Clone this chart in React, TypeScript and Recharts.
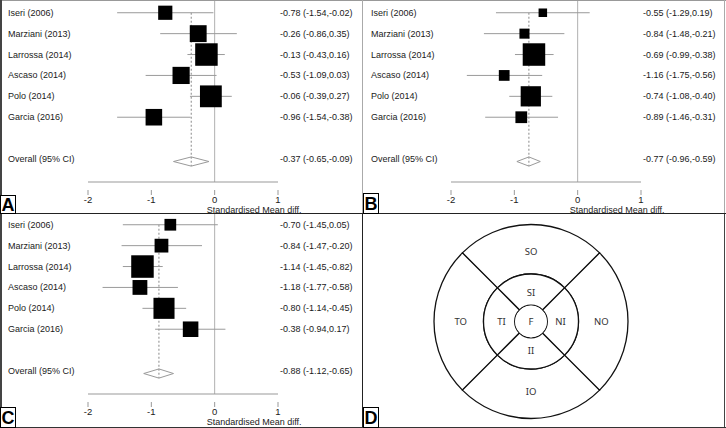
import React from 'react';
import { ScatterChart, Scatter, XAxis, YAxis, ReferenceLine, ErrorBar, PieChart, Pie } from 'recharts';

const studyNames = ['Iseri (2006)', 'Marziani (2013)', 'Larrossa (2014)', 'Ascaso (2014)', 'Polo (2014)', 'Garcia (2016)'];
const overallLabel = 'Overall (95% CI)';
const axisTitle = 'Standardised Mean diff.';
const xTicks = [-2, -1, 0, 1];

// Panel A
const aEst = [-0.78, -0.26, -0.13, -0.53, -0.06, -0.96];
const aLow = [-1.54, -0.86, -0.43, -1.09, -0.39, -1.54];
const aHigh = [-0.02, 0.35, 0.16, 0.03, 0.27, -0.38];
const aWeight = [9.9, 14.0, 24.9, 14.5, 23.4, 13.5];
const aOverall = [-0.37, -0.65, -0.09];

// Panel B
const bEst = [-0.55, -0.84, -0.69, -1.16, -0.74, -0.89];
const bLow = [-1.29, -1.48, -0.99, -1.75, -1.08, -1.46];
const bHigh = [0.19, -0.21, -0.38, -0.56, -0.40, -0.31];
const bWeight = [5.4, 7.5, 37.7, 8.6, 30.5, 10.3];
const bOverall = [-0.77, -0.96, -0.59];

// Panel C
const cEst = [-0.70, -0.84, -1.14, -1.18, -0.80, -0.38];
const cLow = [-1.45, -1.47, -1.45, -1.77, -1.14, -0.94];
const cHigh = [0.05, -0.20, -0.82, -0.58, -0.45, 0.17];
const cWeight = [7.9, 10.9, 29.1, 12.6, 25.5, 13.9];
const cOverall = [-0.88, -1.12, -0.65];

// Panel D (macular grid)
const outerSectors = ['SO', 'TO', 'IO', 'NO'];
const innerSectors = ['SI', 'TI', 'II', 'NI'];
const centerSector = ['F'];

const FONT = '"Liberation Sans", Arial, Helvetica, sans-serif';
const OVERALL_ROW = 7;
const DIAMOND_ROW = 7.12;
const DIAMOND_HALF = 0.22;
const MAX_SIDE = 22.5;
const CI_COLOR = '#9a9a9a';

const fmt = (v: number) => v.toFixed(2);

type PanelProps = {
  est: number[];
  low: number[];
  high: number[];
  weight: number[];
  overall: number[];
};

function ForestPanel({ est, low, high, weight, overall }: PanelProps) {
  const maxW = Math.max(...weight);
  const studies = studyNames.map((name, i) => ({
    x: est[i],
    y: i,
    w: weight[i],
    err: [est[i] - low[i], high[i] - est[i]],
  }));
  const [oEst, oLow, oHigh] = overall;
  const diamond = [
    { x: oLow, y: DIAMOND_ROW },
    { x: oEst, y: DIAMOND_ROW - DIAMOND_HALF },
    { x: oHigh, y: DIAMOND_ROW },
    { x: oEst, y: DIAMOND_ROW + DIAMOND_HALF },
    { x: oLow, y: DIAMOND_ROW },
  ];
  const labels: Record<number, [string, string]> = {};
  studyNames.forEach((n, i) => {
    labels[i] = [n, `${fmt(est[i])} (${fmt(low[i])},${fmt(high[i])})`];
  });
  labels[OVERALL_ROW] = [overallLabel, `${fmt(oEst)} (${fmt(oLow)},${fmt(oHigh)})`];
  const yTicks = [0, 1, 2, 3, 4, 5, OVERALL_ROW];

  const renderYTick = (props: any) => {
    const { y, payload } = props;
    const l = labels[payload.value];
    if (!l) return <g />;
    return (
      <g>
        <text x={8} y={y} dominantBaseline="central" fontSize={9} fontFamily={FONT} fill="#1a1a1a">{l[0]}</text>
        <text x={280} y={y} dominantBaseline="central" fontSize={9} fontFamily={FONT} fill="#1a1a1a">{l[1]}</text>
      </g>
    );
  };

  const renderXTick = (props: any) => {
    const { x, y, payload } = props;
    return (
      <g>
        <line x1={x} x2={x} y1={y + 8} y2={y + 13} stroke="#999" />
        <text x={x} y={y + 20.7} textAnchor="middle" fontSize={9.5} fontFamily={FONT} fill="#1a1a1a">{String(payload.value)}</text>
        {payload.value === 0 ? (
          <text x={x - 8} y={y + 31} fontSize={9} fontFamily={FONT} fill="#1a1a1a">{axisTitle}</text>
        ) : null}
      </g>
    );
  };

  const renderSquare = (props: any) => {
    const { cx, cy, payload } = props;
    const s = MAX_SIDE * Math.sqrt(payload.w / maxW);
    return <rect x={cx - s / 2} y={cy - s / 2} width={s} height={s} fill="#000" />;
  };

  return (
    <ScatterChart width={363} height={214} margin={{ top: 0, right: 85, bottom: 0, left: 0 }}>
      <XAxis
        type="number"
        dataKey="x"
        domain={[-2, 1]}
        ticks={xTicks}
        interval={0}
        allowDataOverflow
        height={32}
        axisLine={{ stroke: '#999' }}
        tickLine={false}
        tickSize={0}
        tickMargin={0}
        tick={renderXTick}
      />
      <YAxis
        type="number"
        dataKey="y"
        domain={[-0.61, 8.1]}
        reversed
        ticks={yTicks}
        interval={0}
        allowDataOverflow
        width={88}
        axisLine={false}
        tickLine={false}
        tick={renderYTick}
      />
      <ReferenceLine x={0} stroke="#b0b0b0" strokeWidth={1} />
      <ReferenceLine
        segment={[{ x: oEst, y: 0 }, { x: oEst, y: DIAMOND_ROW + DIAMOND_HALF }]}
        stroke="#888"
        strokeDasharray="2 2"
      />
      <Scatter data={diamond} line={{ stroke: CI_COLOR, strokeWidth: 1 }} shape={() => <g />} isAnimationActive={false} />
      <Scatter data={studies} shape={renderSquare} isAnimationActive={false}>
        <ErrorBar dataKey="err" direction="x" width={0} stroke={CI_COLOR} strokeWidth={1} />
      </Scatter>
    </ScatterChart>
  );
}

const RAD = Math.PI / 180;
const ringLabel = (radiusShift: number) => (props: any) => {
  const { cx, cy, midAngle, innerRadius, outerRadius, name } = props;
  const r = innerRadius === 0 ? 0 : (innerRadius + outerRadius) / 2 + radiusShift;
  const x = cx + r * Math.cos(-midAngle * RAD);
  const y = cy + r * Math.sin(-midAngle * RAD);
  return (
    <text x={x} y={y} textAnchor="middle" dominantBaseline="central" fontSize={9.5} fontFamily='"Noto Sans", "DejaVu Sans", sans-serif' fill="#333">
      {name}
    </text>
  );
};

function GridPanel() {
  const outer = outerSectors.map((name) => ({ name, value: 1 }));
  const inner = innerSectors.map((name) => ({ name, value: 1 }));
  const center = centerSector.map((name) => ({ name, value: 1 }));
  const cx = 168;
  const cy = 107.5;
  return (
    <PieChart width={363} height={214} margin={{ top: 0, right: 0, bottom: 0, left: 0 }}>
      <Pie data={outer} dataKey="value" nameKey="name" cx={cx} cy={cy} innerRadius={47.5} outerRadius={97}
        startAngle={45} endAngle={405} fill="#fff" stroke="#111" strokeWidth={1.3}
        label={ringLabel(-2)} labelLine={false} isAnimationActive={false} />
      <Pie data={inner} dataKey="value" nameKey="name" cx={cx} cy={cy} innerRadius={16.3} outerRadius={47.5}
        startAngle={45} endAngle={405} fill="#fff" stroke="#111" strokeWidth={1.3}
        label={ringLabel(-2.5)} labelLine={false} isAnimationActive={false} />
      <Pie data={center} dataKey="value" nameKey="name" cx={cx} cy={cy} innerRadius={0} outerRadius={16}
        startAngle={0} endAngle={360} fill="#fff" stroke="none"
        label={ringLabel(0)} labelLine={false} isAnimationActive={false} />
    </PieChart>
  );
}

const line = (left: number, top: number, width: number, height: number, bg: string) => (
  <div style={{ position: 'absolute', left, top, width, height, background: bg, pointerEvents: 'none' }} />
);

const letterBox = (letter: string, left: number, top: number, height: number) => (
  <div
    style={{
      position: 'absolute', left, top, width: 16, height, boxSizing: 'border-box',
      border: '1px solid #000', background: '#fff', fontFamily: FONT, fontWeight: 'bold',
      fontSize: 18, lineHeight: `${height - 1}px`, textAlign: 'center', color: '#000',
    }}
  >
    {letter}
  </div>
);

export default function App() {
  return (
    <div style={{ position: 'absolute', left: 0, top: 0, width: 726, height: 428, background: '#fff', overflow: 'hidden' }}>
      <div style={{ position: 'absolute', left: 0, top: 0 }}>
        <ForestPanel est={aEst} low={aLow} high={aHigh} weight={aWeight} overall={aOverall} />
      </div>
      <div style={{ position: 'absolute', left: 363, top: 0 }}>
        <ForestPanel est={bEst} low={bLow} high={bHigh} weight={bWeight} overall={bOverall} />
      </div>
      <div style={{ position: 'absolute', left: 0, top: 212 }}>
        <ForestPanel est={cEst} low={cLow} high={cHigh} weight={cWeight} overall={cOverall} />
      </div>
      <div style={{ position: 'absolute', left: 363, top: 214 }}>
        <GridPanel />
      </div>
      {line(0, 0, 726, 1, '#999')}
      {line(0, 0, 2, 428, '#444')}
      {line(362, 0, 1, 213, '#aaa')}
      {line(362, 213, 1, 215, '#222')}
      {line(724, 0, 1, 213, '#aaa')}
      {line(724, 213, 1, 215, '#444')}
      {line(0, 213, 726, 1, '#222')}
      {line(0, 427, 726, 1, '#333')}
      {letterBox('A', 0, 195, 19)}
      {letterBox('B', 363, 193, 21)}
      {letterBox('C', 0, 407, 21)}
      {letterBox('D', 363, 407, 21)}
    </div>
  );
}
